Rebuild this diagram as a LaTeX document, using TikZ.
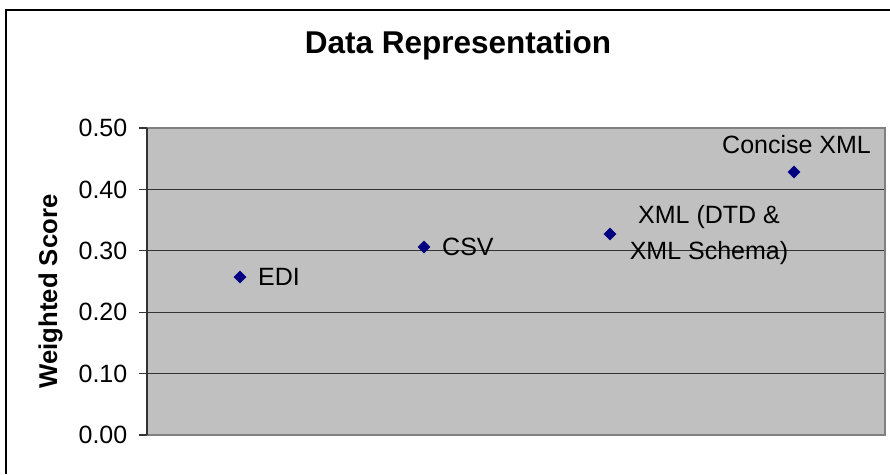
\documentclass[tikz,border=0pt]{standalone}
\usepackage{fontspec}
\setmainfont{Liberation Sans}
\usetikzlibrary{shapes.geometric}
\definecolor{plotgray}{HTML}{C0C0C0}
\definecolor{framegray}{HTML}{808080}
\definecolor{navy}{HTML}{000080}
\begin{document}
\begin{tikzpicture}[x=1pt,y=-1pt,
  lbl/.style={inner sep=0pt,font=\fontsize{25}{30}\selectfont},
  ticklbl/.style={lbl,anchor=east},
  ptlabel/.style={lbl,anchor=base west},
  marker/.style={diamond,fill=navy,inner sep=0pt,minimum size=13pt},
  grid/.style={draw=black!80,line width=1.2pt},
  tick/.style={draw=black!80,line width=1.2pt}]
\useasboundingbox (0,0) rectangle (890,474);
\fill[white] (0,0) rectangle (890,474);
% outer chart border (right and bottom lie beyond the image)
\draw[line width=2.2pt,black] (6,474) -- (6,10) -- (890,10);
% title
\node[inner sep=0pt,anchor=base,font=\fontsize{31.5}{36}\selectfont\bfseries] (title) at (458,53) {Data Representation};
% y-axis label
\node[inner sep=0pt,anchor=base,rotate=90,font=\fontsize{25.7}{30}\selectfont\bfseries] (ylab) at (57,291.5) {Weighted Score};
% plot area
\draw[fill=plotgray,draw=framegray,line width=2pt] (147,128) rectangle (885,435);
\foreach \i/\yy in {1/373.6,2/312.2,3/250.8,4/189.4}{
  \draw[grid] (147,\yy) -- (884,\yy);
}
\draw[tick] (147,128) -- (147,435);
\foreach \i/\yy/\t in {0/435/0.00,1/373.6/0.10,2/312.2/0.20,3/250.8/0.30,4/189.4/0.40,5/128/0.50}{
  \draw[tick] (139,\yy) -- (147,\yy);
  \node[ticklbl] (t\i) at (127.5,\yy) {\t};
}
% data points
\node[marker] (edi) at (240,277) {};
\node[marker] (csv) at (424,247) {};
\node[marker] (xml) at (610,234) {};
\node[marker] (cxml) at (794,172) {};
% labels
\node[ptlabel] (ediL) at (258,285) {EDI};
\node[ptlabel] (csvL) at (442,255) {CSV};
\node[lbl,anchor=base] (xmlA) at (709,223) {XML (DTD \&};
\node[lbl,anchor=base] (xmlB) at (709,259) {XML Schema)};
\node[ptlabel] (cxmlL) at (722,153) {Concise XML};
\end{tikzpicture}
\end{document}
